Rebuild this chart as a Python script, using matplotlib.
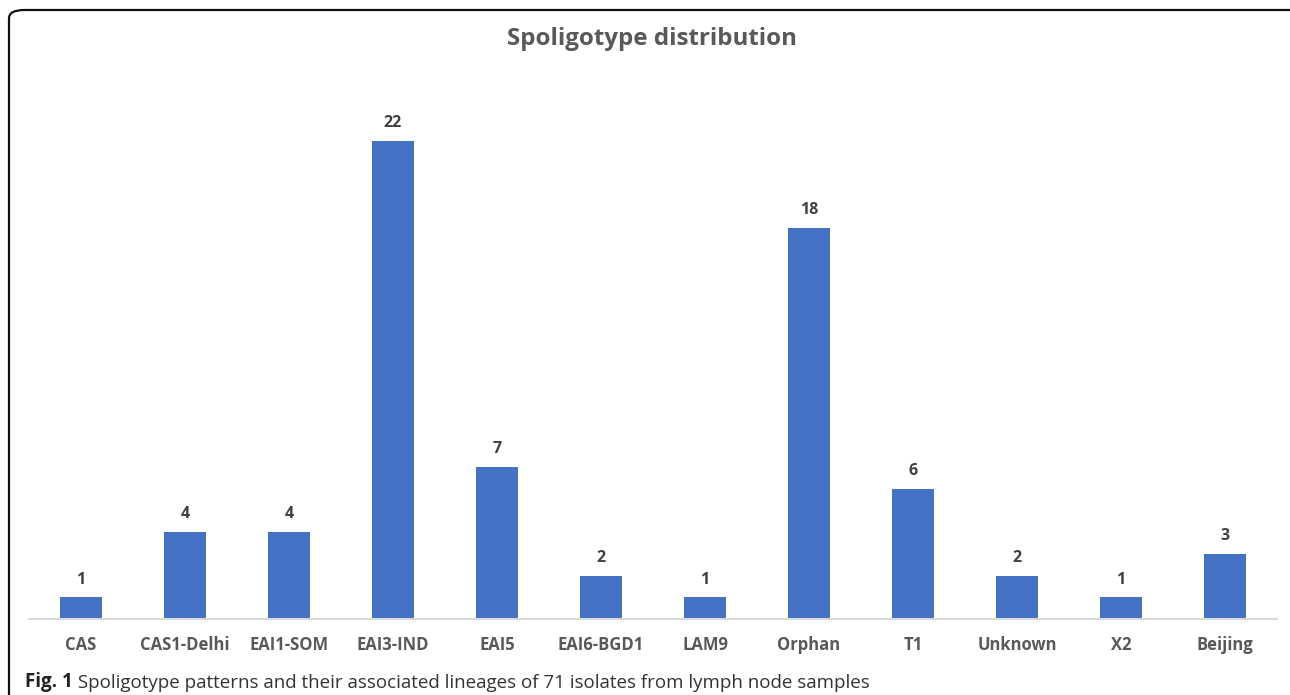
import matplotlib
matplotlib.use("Agg")
import matplotlib.pyplot as plt
from matplotlib.patches import FancyBboxPatch

# Data
lineages = ['CAS', 'CAS1-Delhi', 'EAI1-SOM', 'EAI3-IND', 'EAI5', 'EAI6-BGD1',
            'LAM9', 'Orphan', 'T1', 'Unknown', 'X2', 'Beijing']
counts = [1, 4, 4, 22, 7, 2, 1, 18, 6, 2, 1, 3]

BAR_COLOR = '#4472C4'
TEXT_GRAY = '#595959'

plt.rcParams['font.family'] = ['Open Sans', 'DejaVu Sans']

W, H = 1290, 695
fig = plt.figure(figsize=(W / 100, H / 100), dpi=100)

# axes placed in pixel terms: x 29..1277, y 76..619 (from top)
ax = fig.add_axes([29 / W, (H - 619) / H, (1277 - 29) / W, (619 - 76) / H])

x = range(len(lineages))
bars = ax.bar(x, counts, width=0.4, color=BAR_COLOR)
for xi, c in zip(x, counts):
    ax.annotate(str(c), (xi, c), xytext=(0, 7), textcoords='offset points',
                ha='center', va='bottom', fontsize=11.5, fontweight='bold',
                color='#404040')

ax.set_xlim(-0.5, len(lineages) - 0.5)
ax.set_ylim(0, 25)
ax.set_xticks(list(x))
ax.set_xticklabels(lineages, fontsize=12, fontweight='bold', color=TEXT_GRAY)
ax.tick_params(axis='x', length=0, pad=12)
ax.set_yticks([])
for side in ['top', 'right', 'left']:
    ax.spines[side].set_visible(False)
ax.spines['bottom'].set_color('#D9D9D9')
ax.spines['bottom'].set_linewidth(1.5)

fig.text(652 / W, 1 - 39 / H, 'Spoligotype distribution', ha='center', va='center',
         fontsize=17.4, fontweight='bold', color=TEXT_GRAY)

# rounded frame, open to the right and bottom edges of the picture
frame = FancyBboxPatch((9 / W, -0.2), 1.2, 1 - 10 / H + 0.2,
                       boxstyle='round,pad=0,rounding_size=0.012',
                       transform=fig.transFigure, fill=False,
                       edgecolor='#111111', linewidth=1.6)
fig.patches.append(frame)

# caption
t1 = fig.text(25 / W, 1 - 682 / H, 'Fig. 1', ha='left', va='center',
              fontsize=13.5, fontweight='bold', color='#222222')
ax.annotate(' Spoligotype patterns and their associated lineages of 71 isolates from lymph node samples',
            xy=(1, 0), xycoords=t1, xytext=(0, 0), textcoords='offset points',
            ha='left', va='bottom', fontsize=13.5, color='#333333',
            annotation_clip=False)

fig.savefig('out.png', dpi=100)
